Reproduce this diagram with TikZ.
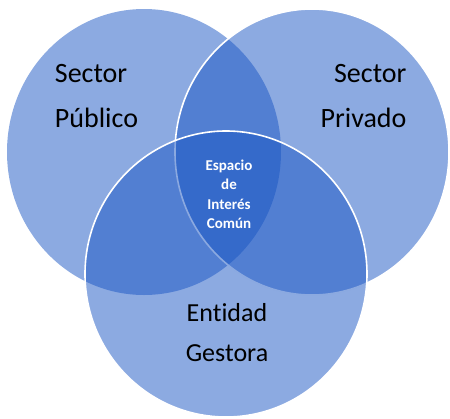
\documentclass[tikz,border=0pt]{standalone}
\usepackage{fontspec}
\setmainfont{Carlito}[Ligatures=NoCommon]
\definecolor{vennblue}{RGB}{25,85,195}
\begin{document}
\begin{tikzpicture}[x=1pt,y=-1pt,
        set/.style={fill=vennblue,fill opacity=0.5},
        rim/.style={draw=white,line width=1.6pt},
        biglabel/.style={font=\fontsize{28}{45}\selectfont,inner sep=0pt,text=black},
        midlabel/.style={font=\bfseries\fontsize{15}{19.5}\selectfont,inner sep=0pt,text=white,align=center}]
            \useasboundingbox (0,0) rectangle (450,418);

            \coordinate (P) at (144,152);
            \coordinate (R) at (312,152);
            \coordinate (G) at (226,274);

            \fill[set] (P) ellipse [x radius=137pt, y radius=143pt];
            \path[set,rim] (R) ellipse [x radius=137pt, y radius=143pt];
            \path[set,rim] (G) ellipse [x radius=141pt, y radius=143pt];

            \node[biglabel,align=left] (publico) at (96.5,96) {Sector\\Público};
            \node[biglabel,align=right] (privado) at (363.5,96) {Sector\\Privado};
            \node[biglabel,align=center,font=\fontsize{26}{40}\selectfont] (gestora) at (227,333) {Entidad\\Gestora};

            \node[midlabel] (comun) at (229,194.5) {Espacio\\de\\Interés\\Común};

        \end{tikzpicture}
\end{document}
